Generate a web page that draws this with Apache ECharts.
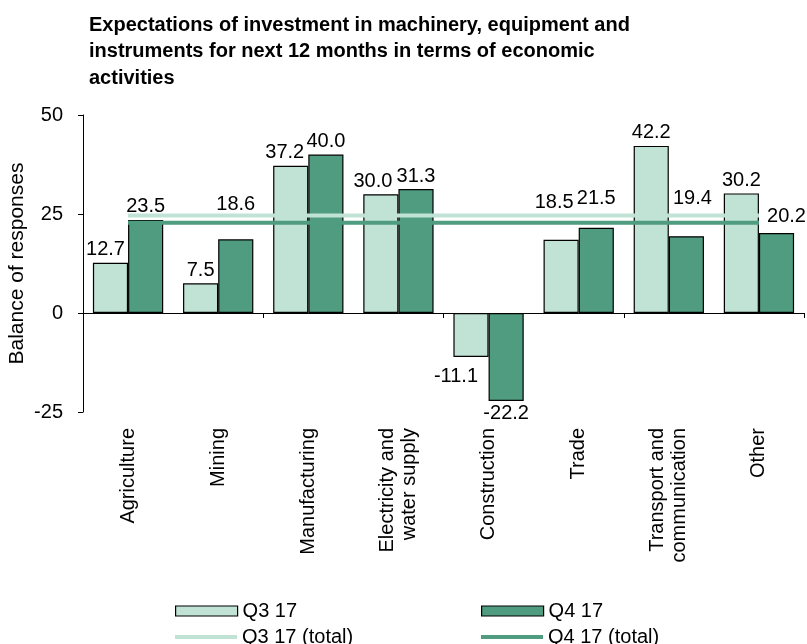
<!DOCTYPE html>
<html>
<head>
  <meta charset="utf-8">
  <title>Expectations of investment</title>
  <script src="https://cdn.jsdelivr.net/npm/echarts@6/dist/echarts.min.js"></script>
  <style>
    html, body { margin: 0; padding: 0; background: #fff; }
    #chart { width: 807px; height: 644px; }
  </style>
</head>
<body>
<div id="chart"></div>
<script>
  // data
  var categories = ['Agriculture', 'Mining', 'Manufacturing', 'Electricity and\nwater supply',
    'Construction', 'Trade', 'Transport and\ncommunication', 'Other'];
  var q3Values = [12.7, 7.5, 37.2, 30.0, -11.1, 18.5, 42.2, 30.2];
  var q4Values = [23.5, 18.6, 40.0, 31.3, -22.2, 21.5, 19.4, 20.2];
  var q3Total = 24.6;
  var q4Total = 22.8;
  var yTicks = [-25, 0, 25, 50];

  var lightGreen = '#c0e3d5';
  var darkGreen = '#4f9c80';
  var font = 'Liberation Sans, Arial, sans-serif';

  // label nudges, Excel moved some of them off the total lines
  var labelShift = {
    'q3-0': [-5, 0], 'q3-2': [-6, 0], 'q3-3': [-8, 0], 'q3-4': [-15, 7], 'q3-5': [-7, -24],
    'q4-1': [0, -22], 'q4-5': [0, -16], 'q4-6': [6, -25], 'q4-7': [10, -4]
  };

  function barData(values, key) {
    return values.map(function (v, i) {
      var item = { value: v, label: {} };
      if (v < 0) item.label.position = 'bottom';
      var s = labelShift[key + '-' + i];
      if (s) item.label.offset = s;
      return item;
    });
  }

  function fill(v) {
    return categories.map(function () { return v; });
  }

  var barLabel = {
    show: true,
    position: 'top',
    distance: 3,
    color: '#000',
    fontFamily: font,
    fontSize: 20,
    formatter: function (p) { return p.value.toFixed(1); }
  };

  var legendText = { fontSize: 20, color: '#000', fontFamily: font };

  var myChart = echarts.init(document.getElementById('chart'));
  var option = {
    animation: false,
    textStyle: { fontFamily: font },
    title: {
      text: 'Expectations of investment in machinery, equipment and\ninstruments for next 12 months in terms of economic\nactivities',
      left: 84,
      top: 7,
      textStyle: { fontSize: 20, fontWeight: 'bold', color: '#000', lineHeight: 26.5, fontFamily: font }
    },
    legend: [
      { data: [{ name: 'Q3 17', icon: 'rect' }], left: 175, top: 601, itemHeight: 10,
        itemStyle: { borderColor: '#000', borderWidth: 1.2 } },
      { data: [{ name: 'Q4 17', icon: 'rect' }], left: 481, top: 601, itemHeight: 10,
        itemStyle: { borderColor: '#000', borderWidth: 1.2 } },
      { data: [{ name: 'Q3 17 (total)', icon: 'rect' }], left: 175, top: 627, itemHeight: 4,
        itemStyle: { borderWidth: 0 } },
      { data: [{ name: 'Q4 17 (total)', icon: 'rect' }], left: 481, top: 627, itemHeight: 4,
        itemStyle: { borderWidth: 0 } }
    ].map(function (l) {
      l.itemWidth = 62;
      l.padding = 0;
      l.textStyle = legendText;
      return l;
    }),
    grid: { left: 83, right: 3, top: 115, bottom: 232, containLabel: false, outerBoundsMode: 'none' },
    xAxis: [
      {
        type: 'category',
        data: categories,
        axisLine: { onZero: true, lineStyle: { color: '#000', width: 1 } },
        axisTick: { show: true, length: 5, alignWithLabel: false, lineStyle: { color: '#000' } },
        axisLabel: { show: false }
      },
      {
        type: 'category',
        data: categories,
        position: 'bottom',
        axisLine: { show: false },
        axisTick: { show: false },
        axisLabel: {
          interval: 0, rotate: 90, margin: 16,
          color: '#000', fontSize: 20, fontFamily: font, lineHeight: 22
        }
      }
    ],
    yAxis: {
      type: 'value',
      min: yTicks[0],
      max: yTicks[yTicks.length - 1],
      interval: 25,
      name: 'Balance of responses',
      nameLocation: 'middle',
      nameGap: 55,
      nameMoveOverlap: false,
      nameTextStyle: { fontSize: 21, color: '#000', fontFamily: font },
      axisLine: { show: true, lineStyle: { color: '#000' } },
      axisTick: { show: true, length: 5, lineStyle: { color: '#000' } },
      axisLabel: { color: '#000', fontSize: 20, fontFamily: font, margin: 20 },
      splitLine: { show: false }
    },
    series: [
      {
        name: 'Q3 17', type: 'bar', xAxisIndex: 0,
        data: barData(q3Values, 'q3'),
        barGap: '0%', barCategoryGap: '22%',
        itemStyle: { color: lightGreen, borderColor: '#000', borderWidth: 1.2 },
        label: barLabel
      },
      {
        name: 'Q4 17', type: 'bar', xAxisIndex: 0,
        data: barData(q4Values, 'q4'),
        barGap: '0%', barCategoryGap: '22%',
        itemStyle: { color: darkGreen, borderColor: '#000', borderWidth: 1.2 },
        label: barLabel
      },
      {
        name: 'Q3 17 (total)', type: 'line', xAxisIndex: 0,
        data: fill(q3Total), symbol: 'none', z: 5,
        lineStyle: { color: lightGreen, width: 4 },
        itemStyle: { color: lightGreen }
      },
      {
        name: 'Q4 17 (total)', type: 'line', xAxisIndex: 0,
        data: fill(q4Total), symbol: 'none', z: 5,
        lineStyle: { color: darkGreen, width: 4 },
        itemStyle: { color: darkGreen }
      }
    ]
  };
  myChart.setOption(option);
</script>
</body>
</html>
